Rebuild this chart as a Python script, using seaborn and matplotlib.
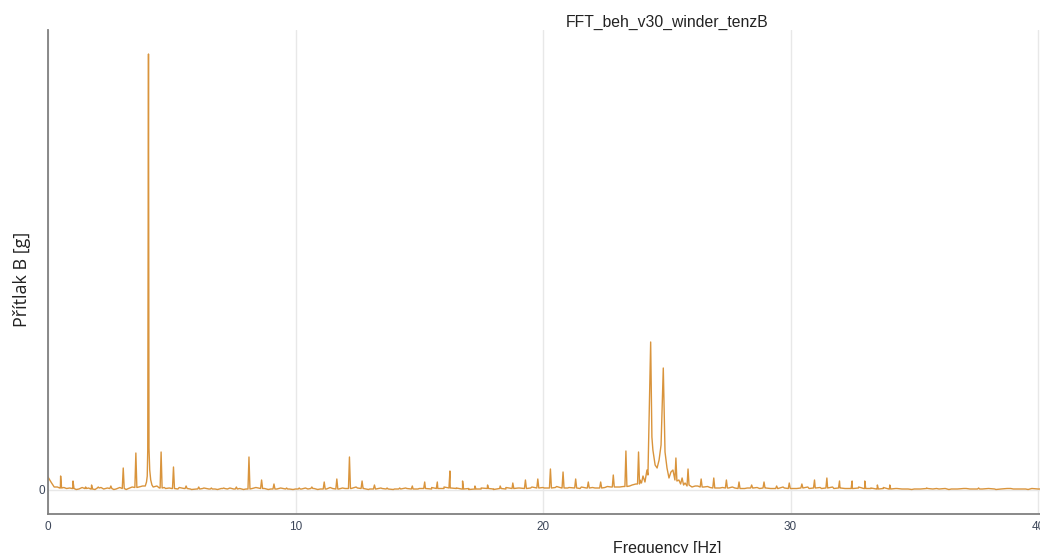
import numpy as np
import pandas as pd
import seaborn as sns
import matplotlib
matplotlib.use("Agg")
import matplotlib.pyplot as plt

# ---- data (arbitrary amplitude units) ----
floor_step = 0.25
floor_level = [
    13, 3, 2, 1.5, 1.5, 1, 1.5, 1, 2, 1, 1.5, 1, 1.5, 1.5, 2.5, 3.5, 6, 3, 2, 1.5, 1.5,
    1, 1.5, 1, 1, 1.5, 1, 1, 1.5, 1, 1, 1.5, 1, 1.5, 2, 1.5, 1, 1, 1.5, 1, 1,
    1, 1, 1.5, 1, 1, 1.5, 1, 1.5, 1.5, 2, 1.5, 1, 1, 1.5, 1, 1, 1, 1.5, 1, 1.5,
    1.5, 1, 1.5, 1.5, 2, 1.5, 1, 1.5, 1, 1, 1.5, 1, 1.5, 1, 1.5, 2, 1.5, 2, 2, 2.5,
    2, 2.5, 2, 2, 2, 1.5, 2, 2.5, 2, 2.5, 3, 3, 3.5, 4, 6, 10, 18, 25, 14, 30,
    10, 8, 5, 3, 4, 3, 2.5, 2, 2.5, 2, 2, 1.5, 2, 2, 1.5, 2, 1.5, 1.5, 2, 1.5,
    1.5, 2, 1.5, 2, 1.5, 2, 1.5, 2, 1.5, 1.5, 2, 1.5, 1.5, 1, 1.5, 1, 1.5, 1, 1, 1,
    1, 1.5, 1, 1, 1.5, 1, 1, 1.5, 1, 1, 1, 1.5, 1, 1, 1.5, 1, 1, 1, 1.5, 1,
    1, 1, 1.5, 1, 1, 1, 1.5, 1, 1, 1.5, 1, 1, 1, 1.5, 1, 1, 1, 1.5, 1, 1,
    1, 1.5, 1, 1, 1, 1.5, 1, 1, 1, 1.5, 1, 1, 1, 1.5, 1, 1, 1, 1, 1.5, 1,
]

# small in-between wiggles of the noise floor (freq, amplitude)
wiggle_freq = [0.12, 0.2, 0.38, 0.64, 0.88, 1.14, 1.38, 1.64, 1.9, 2.14, 2.4, 2.66,
               2.9, 3.16, 3.4, 3.68, 3.82, 4.4, 4.7, 4.9, 5.3, 5.8, 6.3, 6.85, 7.35,
               7.9, 8.4, 8.9, 9.4, 9.9, 10.4, 10.9, 11.4, 11.9, 12.45, 12.95, 13.45,
               13.95, 14.45, 14.95, 15.5, 16.0, 16.5, 17.0, 17.5, 18.0, 18.5, 19.05,
               19.55, 20.05, 20.55, 21.05, 21.55, 22.1, 22.6, 23.1, 23.6, 26.15, 26.65,
               27.15, 27.65, 28.15, 28.65, 29.2, 29.7, 30.2, 30.7, 31.2, 31.7, 32.2,
               32.75, 33.25, 33.75, 34.3, 34.9, 35.9, 36.4, 37.1, 38.3, 38.9, 39.6,
               40.6, 41.7, 42.4, 43.8, 44.5, 45.1, 45.9, 47.3, 48.1, 48.8, 49.4]
wiggle_amp = [8, 5, 3, 2.5, 2, 0.5, 2.5, 2, 0.5, 2.5, 2, 0.5,
              2.5, 0.5, 3, 3, 4, 4, 2.5, 2, 2.5, 0.5, 2, 0.5, 2,
              0.5, 2.5, 0.5, 2, 0.5, 2, 0.5, 2.5, 2, 3, 0.5, 2,
              0.5, 2, 1, 2.5, 3, 2, 0.5, 2, 0.5, 2.5, 2,
              3, 2, 3.5, 2.5, 3, 2, 3.5, 3, 5, 4, 3.5,
              2, 3, 1.5, 2.5, 1.5, 3, 1.5, 3, 2.5, 3, 1.5,
              3, 2, 2.5, 1.5, 0.5, 1.5, 0.5, 1.5, 0.5, 1.5, 0.5,
              1.5, 0.5, 1.5, 0.5, 1.5, 0.5, 1.5, 0.5, 1.5, 0.5, 1.5]

peak_freq = [0.51, 1.01, 1.52, 1.76, 2.03, 2.54, 3.04, 3.55, 4.57, 5.07, 5.58, 6.09,
             6.60, 7.10, 7.61, 8.12, 8.63, 9.13, 9.64, 10.15, 10.66, 11.16, 11.67,
             12.18, 12.69, 13.19, 13.70, 14.21, 14.72, 15.22, 15.73, 16.24, 16.75,
             17.25, 17.76, 18.27, 18.78, 19.29, 19.79, 20.30, 20.81, 21.32, 21.83,
             22.33, 22.84, 23.35, 23.86, 26.39, 26.90, 27.41, 27.92, 28.43, 28.93,
             29.44, 29.95, 30.46, 30.97, 31.47, 31.98, 32.49, 33.00, 33.51, 34.01,
             35.5, 37.6, 41.1, 43.2, 46.7]
peak_amp = [14, 9, 3, 5, 3, 4, 22, 37, 38, 23, 4, 3,
            2, 2, 3, 33, 10, 6, 2, 2, 3, 8, 11,
            33, 9, 5, 2, 2, 4, 8, 8, 19, 9,
            4, 5, 4, 7, 10, 11, 21, 18, 11, 8,
            8, 15, 39, 38, 11, 12, 10, 8, 5, 8,
            4, 7, 6, 10, 12, 9, 9, 9, 5, 5,
            2, 2, 2, 2, 2]

detail_spans = [(3.9, 4.26), (23.9, 26.05)]
detail_freq = [3.93, 3.98, 4.01, 4.03, 4.06, 4.08, 4.11, 4.15, 4.20, 4.25,
               23.92, 23.98, 24.04, 24.12, 24.20, 24.24, 24.35, 24.40, 24.44,
               24.53, 24.61, 24.69, 24.77, 24.86, 24.93, 25.01, 25.09, 25.17,
               25.25, 25.33, 25.37, 25.41, 25.49, 25.56, 25.62, 25.68, 25.74,
               25.82, 25.86, 25.90, 25.96, 26.02]
detail_amp = [4, 8, 14, 40, 436, 42, 20, 10, 5, 3,
              10, 7, 14, 8, 20, 15, 148, 53, 40,
              25, 22, 30, 45, 122, 38, 22, 12, 18,
              20, 10, 32, 9, 10, 6, 12, 5, 7,
              4, 21, 5, 4, 3]

# ---- assemble series ----
floor_freq = np.arange(len(floor_level)) * floor_step
pts = []
for f, a in zip(floor_freq, floor_level):
    if not any(lo <= f <= hi for lo, hi in detail_spans):
        pts.append((f, a))
pts += list(zip(wiggle_freq, wiggle_amp))
for f, a in zip(peak_freq, peak_amp):
    base = floor_level[int(round(f / floor_step))]
    pts += [(f - 0.04, base), (f, a), (f + 0.04, base)]
pts += list(zip(detail_freq, detail_amp))
pts.sort(key=lambda p: p[0])
df = pd.DataFrame(pts, columns=["freq", "amp"])

# ---- plot ----
sns.set_style("white")
plt.rcParams["font.family"] = ["Liberation Sans", "DejaVu Sans"]

fig = plt.figure(figsize=(10.4, 5.53), dpi=100)
W, H = 1040, 553
x0, x1 = 48, 1285.5
y_top, y_bot = 30, 514
ax = fig.add_axes([x0 / W, (H - y_bot) / H, (x1 - x0) / W, (y_bot - y_top) / H])

sns.lineplot(data=df, x="freq", y="amp", ax=ax, color="#d9943c", lw=1.0,
             estimator=None, sort=False)

ax.set_xlim(0, 50)
ax.set_ylim(-24, 460)
ax.set_xticks([0, 10, 20, 30, 40, 50])
ax.set_yticks([0])
ax.grid(True, color="#e8e8e8", lw=1)
ax.set_axisbelow(True)
for s in ["top", "right"]:
    ax.spines[s].set_visible(False)
for s in ["left", "bottom"]:
    ax.spines[s].set_color("#808080")
    ax.spines[s].set_linewidth(1.3)
ax.tick_params(direction="in", length=4, width=1, color="#606060",
               labelsize=8.5, labelcolor="#3c4659")
ax.tick_params(axis="x", pad=5)
ax.tick_params(axis="y", pad=2)

ax.set_title("FFT_beh_v30_winder_tenzB", fontsize=11.3, pad=2, color="#222222")
ax.set_xlabel("Frequency [Hz]", fontsize=11.5, labelpad=6, color="#222222")
ax.set_ylabel("Přítlak B [g]", fontsize=13, color="#222222",
              family=["Open Sans", "DejaVu Sans"])
ax.yaxis.set_label_coords(-0.0137, 0.485)

fig.savefig("out.png", dpi=100)
